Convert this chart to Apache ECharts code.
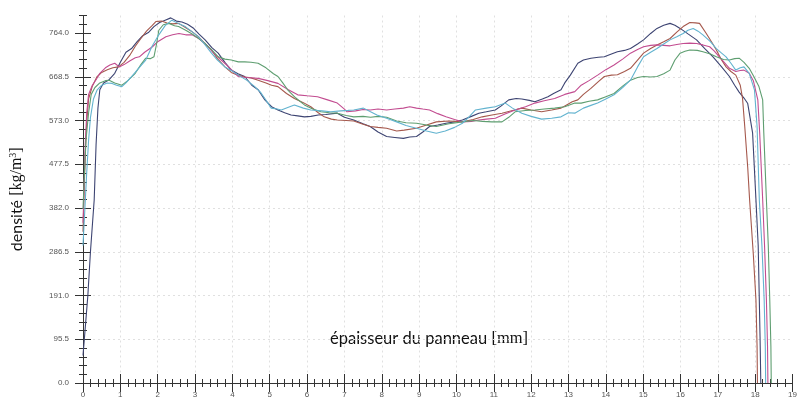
<!DOCTYPE html>
<html><head><meta charset="utf-8">
<script src="https://cdn.jsdelivr.net/npm/echarts@6/dist/echarts.min.js"></script>
<style>html,body{margin:0;padding:0;background:#fff}#c{width:800px;height:401px}</style>
</head><body><div id="c"></div><script>
// ---- data (thickness in mm, density in kg/m3) ----
const xTickLabels = [0,1,2,3,4,5,6,7,8,9,10,11,12,13,14,15,16,17,18,19];
const yTickLabels = [0,95.5,191,286.5,382,477.5,573,668.5,764];
const yAxisTop = 802.2;

const navy = [[0,60],[0.05,110],[0.13,191],[0.2,287],[0.3,400],[0.35,520],[0.4,600],[0.45,640],[0.55,655],[0.7,662],[0.85,676],[1.0,700],[1.15,722],[1.3,730],[1.45,745],[1.6,758],[1.75,765],[1.9,778],[2.05,787],[2.2,792],[2.35,797],[2.5,790],[2.65,788],[2.8,783],[2.95,775],[3.1,762],[3.27,749],[3.45,732],[3.62,720],[3.8,700],[3.97,683],[4.15,675],[4.33,669],[4.52,650],[4.69,640],[4.87,618],[5.05,603],[5.22,596],[5.4,590],[5.57,585],[5.75,583],[5.93,581],[6.1,582],[6.3,585],[6.5,586],[6.81,589],[7.0,580],[7.25,574],[7.5,566],[7.69,560],[7.9,548],[8.13,538],[8.35,536],[8.58,534],[8.75,537],[8.93,538],[9.1,548],[9.28,560],[9.5,563],[9.72,567],[9.95,570],[10.16,574],[10.4,582],[10.6,589],[10.8,592],[11.04,596],[11.2,605],[11.4,618],[11.6,621],[11.75,620],[11.95,617],[12.1,614],[12.3,620],[12.45,625],[12.6,632],[12.8,640],[12.9,655],[13.05,672],[13.25,698],[13.4,705],[13.6,709],[13.8,711],[13.96,712],[14.15,718],[14.31,723],[14.5,726],[14.66,730],[14.85,740],[15.01,749],[15.2,763],[15.37,774],[15.55,781],[15.72,785],[15.85,781],[15.99,774],[16.2,762],[16.43,749],[16.65,730],[16.87,712],[17.1,690],[17.31,669],[17.45,650],[17.57,635],[17.7,622],[17.8,610],[17.93,546],[18.02,400],[18.08,300],[18.11,181],[18.13,100],[18.15,0]];

const brown = [[0,330],[0.03,420],[0.06,500],[0.1,570],[0.15,620],[0.25,648],[0.37,668],[0.5,678],[0.65,684],[0.8,688],[0.95,690],[1.1,700],[1.25,715],[1.4,735],[1.55,752],[1.7,768],[1.85,780],[1.95,789],[2.1,790],[2.25,786],[2.4,784],[2.56,785],[2.7,778],[2.9,768],[3.09,756],[3.25,742],[3.44,727],[3.6,708],[3.8,690],[3.97,678],[4.15,672],[4.33,668],[4.5,666],[4.69,661],[4.9,655],[5.05,650],[5.22,647],[5.45,632],[5.66,621],[5.9,612],[6.1,603],[6.3,590],[6.46,581],[6.65,576],[6.81,574],[7.05,573],[7.25,572],[7.5,565],[7.69,560],[7.9,558],[8.13,556],[8.4,550],[8.6,552],[8.93,556],[9.2,563],[9.46,570],[9.8,572],[10.16,570],[10.45,575],[10.69,581],[10.95,585],[11.22,589],[11.5,595],[11.75,600],[12.0,596],[12.28,592],[12.55,596],[12.8,600],[12.95,607],[13.1,614],[13.25,618],[13.4,630],[13.6,643],[13.8,658],[13.96,669],[14.15,672],[14.31,673],[14.5,680],[14.66,687],[14.85,705],[15.01,720],[15.2,730],[15.37,738],[15.55,745],[15.72,752],[15.9,766],[16.07,778],[16.25,787],[16.4,786],[16.51,785],[16.69,763],[16.85,742],[16.96,727],[17.1,705],[17.22,690],[17.35,680],[17.48,672],[17.6,650],[17.66,622],[17.72,560],[17.8,470],[17.85,400],[17.95,280],[18.02,181],[18.05,80],[18.06,0]];

const magenta = [[0,350],[0.03,430],[0.06,520],[0.1,590],[0.15,630],[0.25,650],[0.35,662],[0.45,676],[0.6,688],[0.72,694],[0.85,698],[0.97,690],[1.1,695],[1.25,703],[1.4,710],[1.51,712],[1.65,722],[1.86,734],[2.0,745],[2.22,756],[2.4,760],[2.57,763],[2.75,760],[2.92,760],[3.1,752],[3.3,738],[3.5,720],[3.7,705],[3.9,690],[4.16,669],[4.4,667],[4.69,665],[4.95,660],[5.22,654],[5.5,640],[5.75,629],[6.0,627],[6.28,625],[6.55,618],[6.81,611],[7.0,598],[7.07,592],[7.3,594],[7.5,597],[7.69,596],[7.9,598],[8.13,596],[8.35,598],[8.58,600],[8.75,603],[8.93,600],[9.1,598],[9.28,596],[9.5,588],[9.72,581],[9.95,575],[10.16,570],[10.4,571],[10.6,574],[10.8,576],[11.04,578],[11.3,587],[11.57,596],[11.85,603],[12.1,611],[12.35,616],[12.63,621],[12.9,630],[13.17,636],[13.34,650],[13.55,660],[13.78,672],[14.0,684],[14.22,694],[14.45,707],[14.66,720],[14.85,728],[15.01,734],[15.2,737],[15.37,738],[15.55,737],[15.72,736],[15.9,739],[16.07,741],[16.25,742],[16.43,741],[16.6,738],[16.78,734],[16.9,725],[17.04,712],[17.17,700],[17.31,687],[17.48,680],[17.6,682],[17.7,683],[17.84,676],[17.95,660],[18.07,618],[18.12,546],[18.2,400],[18.25,300],[18.3,181],[18.33,80],[18.34,0]];

const green = [[0,380],[0.04,460],[0.08,530],[0.15,590],[0.22,630],[0.32,645],[0.45,655],[0.6,660],[0.7,661],[0.85,655],[1.04,650],[1.2,660],[1.4,676],[1.55,695],[1.68,709],[1.8,708],[1.9,712],[1.97,740],[2.03,770],[2.15,782],[2.3,785],[2.45,780],[2.56,778],[2.75,770],[2.9,763],[3.1,752],[3.27,741],[3.45,727],[3.62,712],[3.8,707],[3.97,705],[4.16,701],[4.33,701],[4.5,700],[4.69,698],[4.9,688],[5.1,675],[5.22,669],[5.35,655],[5.48,640],[5.7,622],[5.93,607],[6.15,598],[6.37,592],[6.6,590],[6.81,589],[7.05,584],[7.25,581],[7.5,582],[7.7,580],[7.9,582],[8.13,580],[8.4,572],[8.65,568],[8.93,567],[9.2,563],[9.46,560],[9.8,566],[10.16,570],[10.45,573],[10.7,571],[10.95,570],[11.22,570],[11.4,580],[11.57,592],[11.85,595],[12.1,596],[12.35,598],[12.63,600],[12.9,603],[13.17,611],[13.34,611],[13.55,615],[13.78,618],[14.0,625],[14.22,632],[14.45,648],[14.66,661],[14.85,667],[15.01,669],[15.2,668],[15.37,669],[15.55,675],[15.72,683],[15.85,705],[15.99,720],[16.12,724],[16.25,727],[16.45,726],[16.6,723],[16.8,718],[16.96,712],[17.15,706],[17.31,705],[17.45,708],[17.57,709],[17.7,700],[17.84,687],[17.97,668],[18.1,647],[18.2,618],[18.23,546],[18.3,400],[18.35,300],[18.39,181],[18.42,80],[18.43,0]];

const cyan = [[0,300],[0.05,380],[0.1,460],[0.15,530],[0.2,580],[0.28,620],[0.38,640],[0.5,650],[0.65,655],[0.78,654],[0.9,650],[1.04,647],[1.15,655],[1.3,669],[1.5,688],[1.68,705],[1.85,735],[2.03,760],[2.2,780],[2.38,792],[2.55,785],[2.74,778],[2.9,768],[3.09,756],[3.25,740],[3.44,720],[3.6,705],[3.8,690],[3.97,682],[4.16,672],[4.4,660],[4.6,647],[4.75,635],[4.87,621],[5.04,600],[5.2,598],[5.31,596],[5.5,602],[5.66,607],[5.9,600],[6.1,596],[6.4,594],[6.63,592],[6.9,594],[7.1,595],[7.25,596],[7.51,600],[7.7,592],[7.87,585],[8.13,578],[8.4,570],[8.65,562],[8.93,556],[9.2,550],[9.46,545],[9.7,550],[9.95,558],[10.16,567],[10.35,582],[10.51,596],[10.8,600],[11.04,603],[11.2,608],[11.31,611],[11.5,600],[11.75,589],[12.0,582],[12.28,576],[12.55,578],[12.8,581],[13.0,590],[13.17,589],[13.4,600],[13.6,606],[13.78,611],[14.0,620],[14.22,629],[14.45,645],[14.66,661],[14.85,690],[15.01,712],[15.2,722],[15.37,730],[15.55,740],[15.72,749],[15.9,756],[16.07,763],[16.2,770],[16.34,774],[16.47,768],[16.6,760],[16.8,745],[16.96,730],[17.1,720],[17.22,712],[17.35,698],[17.48,683],[17.6,688],[17.7,690],[17.84,676],[17.98,640],[18.05,560],[18.11,400],[18.18,300],[18.24,181],[18.27,80],[18.28,0]];

const seriesNames = ['navy','brown','magenta','green','cyan'];
const seriesData = [navy, brown, magenta, green, cyan];
const seriesColors = ['#3d4472','#a5584c','#c24c90','#5e9e70','#62b3cf'];

// minor tick positions (5 subdivisions per major step)
const yMinor = [];
for (let i = 0; i < yTickLabels.length; i++) {
  const step = 95.5 / 5;
  for (let k = 1; k < 5; k++) {
    const v = +(yTickLabels[i] + k * step).toFixed(2);
    if (v <= yAxisTop) yMinor.push(v);
  }
}
yMinor.push(yAxisTop);

const axisColor = '#333';
const labelFont = 'Liberation Sans, Arial, sans-serif';

const chart = echarts.init(document.getElementById('c'), null, {renderer: 'canvas'});
const baseX = {type:'value', min:0, max:19, interval:1, position:'bottom', gridIndex:0};
const baseY = {type:'value', min:0, max:yAxisTop, interval:95.5, position:'left', gridIndex:0};

chart.setOption({
  animation: false,
  backgroundColor: '#fff',
  grid: {left: 83, right: 0, top: 15.5, bottom: 18, containLabel: false},
  xAxis: [
    Object.assign({}, baseX, {
      axisLine: {show: true, lineStyle: {color: axisColor, width: 1}},
      axisTick: {show: true, length: 9, lineStyle: {color: axisColor}},
      minorTick: {show: true, splitNumber: 5, length: 4, lineStyle: {color: axisColor}},
      axisLabel: {show: true, fontSize: 8, color: '#555', margin: 8, fontFamily: labelFont,
        formatter: v => String(xTickLabels[Math.round(v)])},
      splitLine: {show: true, showMinLine: false, showMaxLine: false, lineStyle: {type: [2, 3], color: '#e0e0e0', width: 1}}
    }),
    Object.assign({}, baseX, {
      axisLine: {show: false},
      axisTick: {show: true, inside: true, length: 9, lineStyle: {color: axisColor}},
      minorTick: {show: true, splitNumber: 5, length: 4, lineStyle: {color: axisColor}},
      axisLabel: {show: false}, splitLine: {show: false}
    })
  ],
  yAxis: [
    Object.assign({}, baseY, {
      name: '{a|densité }{b|[kg/m}{s|3}{b|]}',
      nameLocation: 'middle', nameGap: 57, nameRotate: 90,
      nameTextStyle: {rich: {
        a: {fontFamily: 'Lato, Open Sans, sans-serif', fontSize: 16, color: '#111'},
        b: {fontFamily: 'Liberation Serif, serif', fontSize: 16, color: '#111'},
        s: {fontFamily: 'Liberation Serif, serif', fontSize: 10, color: '#111', verticalAlign: 'top', padding: [0,0,8,0]}
      }},
      axisLine: {show: true, lineStyle: {color: axisColor, width: 1}},
      axisTick: {show: true, length: 8, customValues: yTickLabels, lineStyle: {color: axisColor}},
      axisLabel: {show: true, fontSize: 8, color: '#555', margin: 14, fontFamily: labelFont,
        customValues: yTickLabels, formatter: v => v.toFixed(1)},
      splitLine: {show: true, showMinLine: false, showMaxLine: false, lineStyle: {type: [2, 3], color: '#e0e0e0', width: 1}}
    }),
    Object.assign({}, baseY, {
      axisLine: {show: false},
      axisTick: {show: true, inside: true, length: 8, customValues: yTickLabels, lineStyle: {color: axisColor}},
      axisLabel: {show: false}, splitLine: {show: false}
    }),
    Object.assign({}, baseY, {
      axisLine: {show: false},
      axisTick: {show: true, length: 4, customValues: yMinor, lineStyle: {color: axisColor}},
      axisLabel: {show: false}, splitLine: {show: false}
    }),
    Object.assign({}, baseY, {
      axisLine: {show: false},
      axisTick: {show: true, inside: true, length: 4, customValues: yMinor, lineStyle: {color: axisColor}},
      axisLabel: {show: false}, splitLine: {show: false}
    })
  ],
  graphic: [{
    type: 'text', left: 330, top: 330,
    style: {
      text: '{a|épaisseur du panneau }{b|[mm]}',
      rich: {
        a: {fontFamily: 'Lato, Open Sans, sans-serif', fontSize: 16.5, fill: '#111'},
        b: {fontFamily: 'Liberation Serif, serif', fontSize: 16.5, fill: '#111'}
      }
    }
  }],
  series: seriesData.map((d, i) => ({
    name: seriesNames[i], type: 'line', data: d, xAxisIndex: 0, yAxisIndex: 0,
    showSymbol: false, symbol: 'none', clip: true,
    lineStyle: {width: 1.1, color: seriesColors[i]}, itemStyle: {color: seriesColors[i]}
  }))
});
</script></body></html>
